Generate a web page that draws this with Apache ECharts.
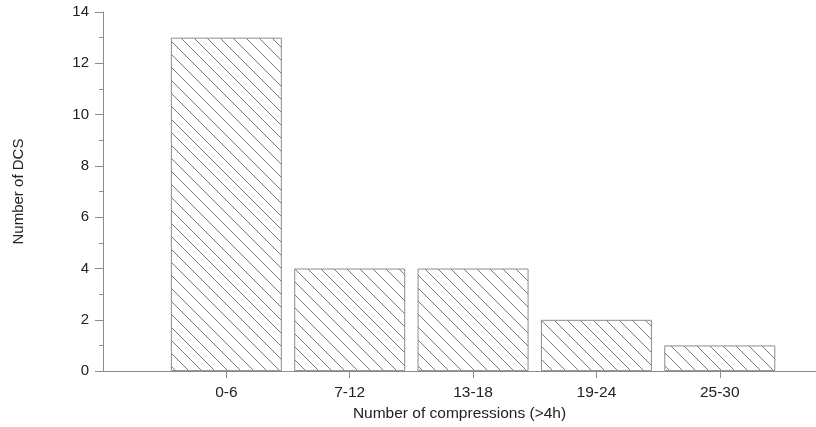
<!DOCTYPE html>
<html><head><meta charset="utf-8">
<script src="https://cdn.jsdelivr.net/npm/echarts@6/dist/echarts.min.js"></script>
<style>html,body{margin:0;padding:0;background:#fff}#c{width:816px;height:427px}</style>
</head><body><div id="c"></div>
<script>
const categories = ['0-6', '7-12', '13-18', '19-24', '25-30'];
const dcsCounts = [13, 4, 4, 2, 1];
const yTicks = [0, 2, 4, 6, 8, 10, 12, 14];
const xTitle = 'Number of compressions (>4h)';
const yTitle = 'Number of DCS';

const tile = document.createElement('canvas');
const T = 13;
tile.width = T; tile.height = T;
const g = tile.getContext('2d');
g.strokeStyle = '#7a7a7a';
g.lineWidth = 1;
g.beginPath();
g.moveTo(-1, -1); g.lineTo(T + 1, T + 1);
g.moveTo(-1, T - 1); g.lineTo(1, T + 1);
g.moveTo(T - 1, -1); g.lineTo(T + 1, 1);
g.stroke();

const positions = categories.map((_, i) => i + 1);
const chart = echarts.init(document.getElementById('c'));
const font = 'Liberation Sans, Arial, sans-serif';
chart.setOption({
  animation: false,
  grid: { left: 103, right: 0, top: 12, bottom: 55, containLabel: false },
  xAxis: {
    type: 'value', min: 0, max: 5.78,
    name: xTitle, nameLocation: 'middle', nameGap: 33,
    nameTextStyle: { color: '#222', fontSize: 15.5, fontFamily: font },
    axisLine: { show: true, lineStyle: { color: '#8c8c8c', width: 1 } },
    axisTick: { show: true, customValues: positions, length: 7, lineStyle: { color: '#8c8c8c' } },
    axisLabel: { customValues: positions, formatter: v => categories[Math.round(v) - 1] || '', color: '#222', fontSize: 15.5, fontFamily: font, margin: 14 },
    splitLine: { show: false }
  },
  yAxis: {
    type: 'value', min: 0, max: 14, interval: 2,
    name: yTitle, nameLocation: 'middle', nameGap: 77,
    nameTextStyle: { color: '#222', fontSize: 15, fontFamily: font },
    axisLine: { show: true, lineStyle: { color: '#8c8c8c', width: 1 } },
    axisTick: { show: true, length: 8, lineStyle: { color: '#8c8c8c' } },
    minorTick: { show: true, splitNumber: 2, length: 4, lineStyle: { color: '#8c8c8c' } },
    axisLabel: { color: '#222', fontSize: 15, fontFamily: font, margin: 14,
      formatter: v => yTicks.includes(v) ? String(v) : '' },
    splitLine: { show: false }
  },
  series: [{
    type: 'bar',
    barWidth: 111,
    data: positions.map((p, i) => [p, dcsCounts[i]]),
    itemStyle: { color: { image: tile, repeat: 'repeat' }, borderColor: '#8c8c8c', borderWidth: 1 }
  }]
});
</script></body></html>
